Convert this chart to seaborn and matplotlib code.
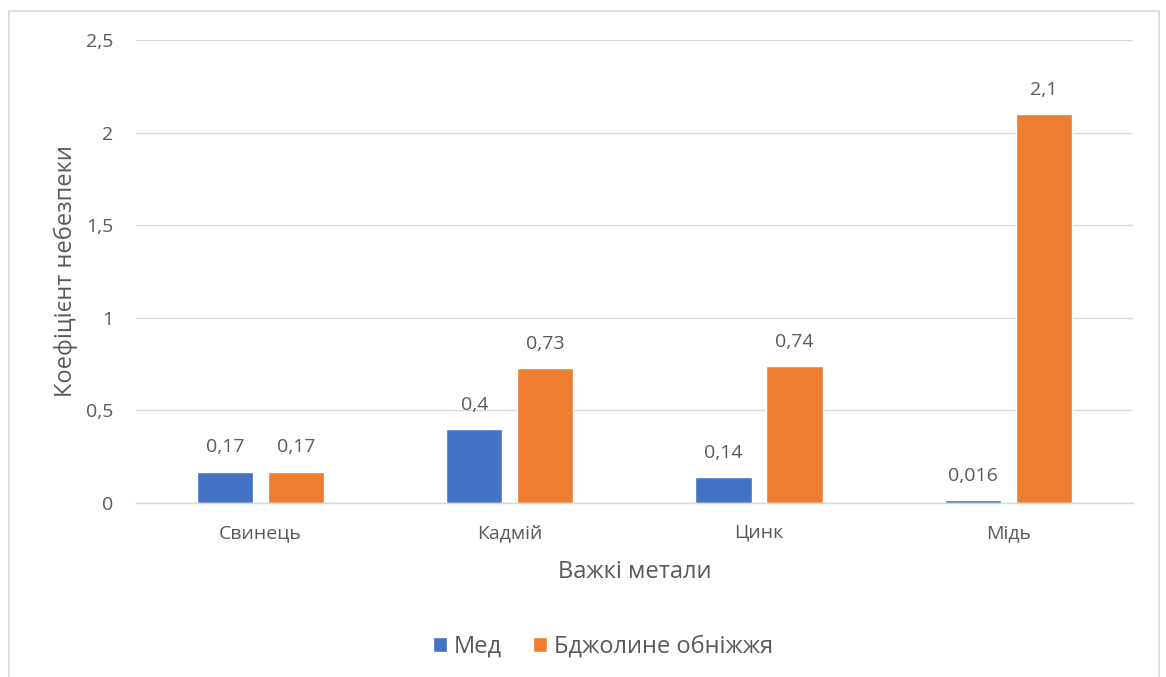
import matplotlib
matplotlib.use("Agg")
import matplotlib.pyplot as plt
from matplotlib.patches import Rectangle
from matplotlib.ticker import FuncFormatter
import seaborn as sns
import pandas as pd

metals = ["Свинець", "Кадмій", "Цинк", "Мідь"]
honey = [0.17, 0.4, 0.14, 0.016]
pollen = [0.17, 0.73, 0.74, 2.1]
series_names = ["Мед", "Бджолине обніжжя"]
y_ticks = [0, 0.5, 1, 1.5, 2, 2.5]

df = pd.DataFrame({
    "metal": metals * 2,
    "value": honey + pollen,
    "series": [series_names[0]] * len(metals) + [series_names[1]] * len(metals),
})

sns.set_style("white")
plt.rcParams["font.family"] = ["Open Sans", "DejaVu Sans"]
text_color = "#595959"
grid_color = "#d9d9d9"

fig = plt.figure(figsize=(11.66, 6.77), dpi=100)
ax = fig.add_axes([0.1166, 0.257, 0.855, 0.684])

sns.barplot(data=df, x="metal", y="value", hue="series", order=metals,
            hue_order=series_names, palette=["#4472C4", "#ED7D31"],
            width=0.57, gap=0.21, ax=ax, legend=True, saturation=1)

def comma(v):
    s = f"{v:g}"
    return s.replace(".", ",")

for cont in ax.containers:
    ax.bar_label(cont, labels=[comma(b.get_height()) for b in cont],
                 padding=11, fontsize=14, color=text_color)

ax.set_ylim(0, 2.5)
ax.set_yticks(y_ticks)
ax.yaxis.set_major_formatter(FuncFormatter(lambda v, p: comma(v)))
ax.grid(axis="y", color=grid_color, linewidth=1)
ax.set_axisbelow(True)
for side in ["top", "right", "left"]:
    ax.spines[side].set_visible(False)
ax.spines["bottom"].set_color(grid_color)
ax.spines["bottom"].set_linewidth(1)
ax.tick_params(axis="both", length=0, labelsize=14, labelcolor=text_color)
ax.tick_params(axis="y", pad=16)
ax.tick_params(axis="x", pad=15)
ax.set_xlim(-0.5, 3.5)

ax.set_xlabel("Важкі метали", fontsize=17, color=text_color, labelpad=13)
ax.set_ylabel("Коефіцієнт небезпеки", fontsize=17, color=text_color, labelpad=6)

handles, labels = ax.get_legend_handles_labels()
ax.legend_.remove()
fig.legend(handles, labels, loc="center", bbox_to_anchor=(0.517, 0.045),
           ncol=2, frameon=False, fontsize=17, labelcolor=text_color,
           handlelength=0.6, handleheight=0.6, handletextpad=0.3,
           columnspacing=1.3)

fig.patches.append(Rectangle((9 / 1166, -0.01), 1150 / 1166, 1 - 11 / 677 + 0.01,
                             transform=fig.transFigure, fill=False,
                             edgecolor=grid_color, linewidth=1.2))

fig.savefig("out.png", dpi=100, facecolor="white")
